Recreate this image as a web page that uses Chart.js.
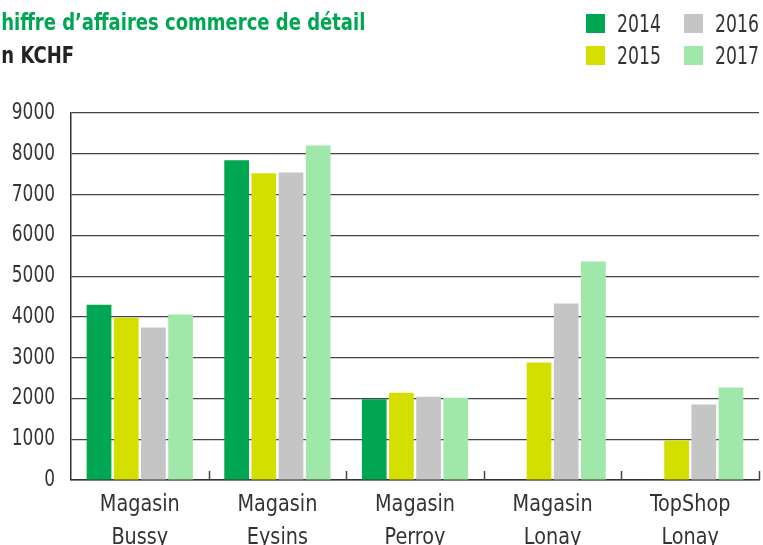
<!DOCTYPE html>
<html><head><meta charset="utf-8">
<script src="https://cdn.jsdelivr.net/npm/chart.js@4/dist/chart.umd.min.js"></script>
<style>
html,body{margin:0;padding:0;background:#fff;}
#wrap{position:relative;width:763px;height:545px;overflow:hidden;}
canvas{position:absolute;left:0;top:0;}
.f{font-family:"DejaVu Sans Condensed","Liberation Sans Narrow","Liberation Sans",sans-serif;}
.tt{position:absolute;font-size:23px;font-weight:bold;white-space:nowrap;transform-origin:0 0;transform:scaleX(0.87);line-height:27px;}
#t1{top:9px;color:#00a651;}
#t2{top:42px;color:#222;}
#legend{position:absolute;left:586px;top:12px;}
.sq{position:absolute;width:19px;height:19px;}
.lt{position:absolute;white-space:nowrap;font-size:24px;color:#333;line-height:24px;transform-origin:0 0;transform:scaleX(0.8);}
</style></head>
<body><div id="wrap">
<canvas id="c" width="763" height="545"></canvas>
<div id="t1" class="f tt"><span class="cut">C</span>hiffre d’affaires commerce de détail</div>
<div id="t2" class="f tt"><span class="cut">E</span>n KCHF</div>
<div id="legend" class="f"></div>
</div>
<script>
const categories = [["Magasin","Bussy"],["Magasin","Eysins"],["Magasin","Perroy"],["Magasin","Lonay"],["TopShop","Lonay"]];
const years = ["2014","2015","2016","2017"];
const v2014 = [4300, 7840, 1980, null, null];
const v2015 = [3980, 7520, 2140, 2880, 970];
const v2016 = [3740, 7540, 2040, 4330, 1850];
const v2017 = [4060, 8200, 2020, 5360, 2270];
const yTicks = [0,1000,2000,3000,4000,5000,6000,7000,8000,9000];
const colors = ["#00a651","#d4df00","#c4c5c4","#a0e8aa"];
const series = [v2014, v2015, v2016, v2017];

const FONT = '"DejaVu Sans Condensed","Liberation Sans Narrow","Liberation Sans",sans-serif';

// shift title so the first letter is cut off at the left edge, as in the reference
document.querySelectorAll('.tt').forEach(el=>{
  const w = el.querySelector('.cut').getBoundingClientRect().width;
  el.style.left = (-w + 1) + 'px';
});

// HTML legend 2x2
const lg = document.getElementById('legend');
years.forEach((y,i)=>{
  const col = Math.floor(i/2), row = i%2;
  const sq = document.createElement('div');
  sq.className='sq'; sq.style.background=colors[i];
  sq.style.left=(col*98)+'px'; sq.style.top=(2+row*32)+'px';
  lg.appendChild(sq);
  const t = document.createElement('div');
  t.className='lt'; t.textContent=y;
  t.style.left=(col*98+31)+'px'; t.style.top=(row*32)+'px';
  lg.appendChild(t);
});

const canvas = document.getElementById('c');
const ctx2 = canvas.getContext('2d');
const origFill = ctx2.fillText.bind(ctx2);
ctx2.fillText = function(t,x,y){
  const w = this.measureText(t).width;
  const f = this.textAlign==='right' ? 0.82 : 0.93;
  return origFill(t,x,y,w*f);
};

const innerTicks = {
  id:'innerTicks',
  afterDatasetsDraw(chart){
    const x = chart.scales.x, ctx = chart.ctx, bottom = chart.chartArea.bottom;
    ctx.save();
    ctx.strokeStyle = '#444'; ctx.lineWidth = 1.5;
    const n = categories.length;
    for(let i=1;i<=n;i++){
      const px = (x.getPixelForValue(i-1)+ (i<n ? x.getPixelForValue(i) : 2*x.getPixelForValue(i-1)-x.getPixelForValue(i-2)))/2;
      ctx.beginPath(); ctx.moveTo(Math.round(px)+0.5,bottom); ctx.lineTo(Math.round(px)+0.5,bottom-9); ctx.stroke();
    }
    ctx.restore();
  }
};

new Chart(canvas,{
  type:'bar',
  data:{labels:categories,datasets:series.map((s,i)=>({label:years[i],data:s,backgroundColor:colors[i],borderWidth:0,categoryPercentage:0.79,barPercentage:0.91}))},
  options:{
    responsive:false,animation:false,
    layout:{padding:{top:113,right:4,left:0,bottom:0}},
    plugins:{legend:{display:false},tooltip:{enabled:false}},
    scales:{
      x:{
        grid:{display:false,drawTicks:false},
        border:{display:true,color:'#333',width:1.5},
        ticks:{color:'#333',font:{family:FONT,size:23,lineHeight:1.45},padding:8,maxRotation:0,autoSkip:false},
        afterFit(s){s.height=65;}
      },
      y:{
        min:0,max:9000,
        afterBuildTicks(s){s.ticks=yTicks.map(v=>({value:v}));},
        grid:{color:'#444',lineWidth:1.2,drawTicks:false},
        border:{display:true,color:'#333',width:1.5},
        ticks:{color:'#333',font:{family:FONT,size:23},padding:16,callback:(v)=>String(v)},
        afterFit(s){s.width=71;}
      }
    }
  },
  plugins:[innerTicks]
});
</script>
</body></html>
